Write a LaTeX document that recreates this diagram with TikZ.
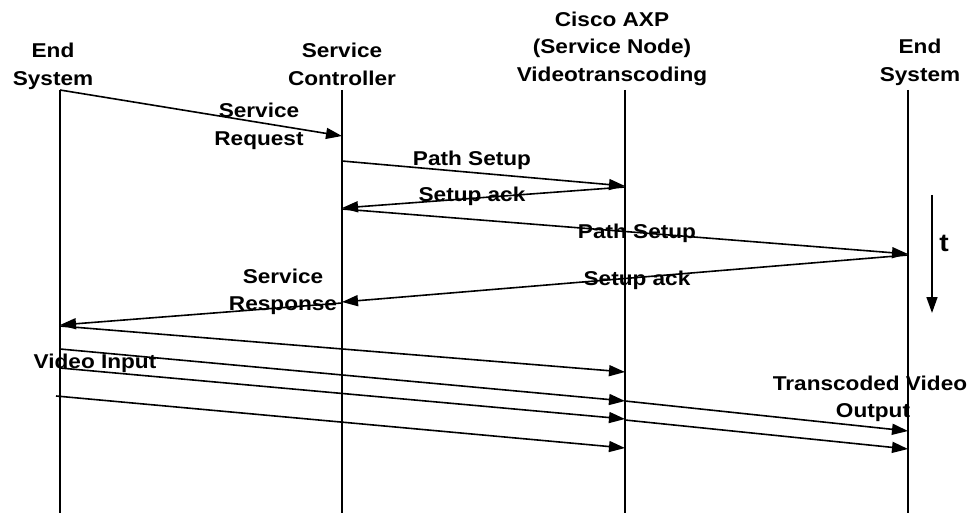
\documentclass[tikz,border=0pt]{standalone}
\usepackage{fontspec}
\setmainfont{Liberation Sans}[FakeStretch=1.13]
\usetikzlibrary{arrows.meta}
\begin{document}
\begin{tikzpicture}[x=1pt,y=-1pt,
  lifeline/.style={line width=1.4pt},
  msg/.style={line width=1.6pt,-{Triangle[length=16pt,width=11pt]}},
  lbl/.style={anchor=base,inner sep=0pt,font=\fontsize{20}{27}\selectfont\bfseries}]
\useasboundingbox (0,0) rectangle (974,513);
\fill[white] (0,0) rectangle (974,513);
% headers
\node[lbl] (h1a) at (53,58) {End};
\node[lbl] (h1b) at (53,86) {System};
\node[lbl] (h2a) at (342,58) {Service};
\node[lbl] (h2b) at (342,86) {Controller};
\node[lbl] (h3a) at (612,27) {Cisco AXP};
\node[lbl] (h3b) at (612,54) {(Service Node)};
\node[lbl] (h3c) at (612,82) {Videotranscoding};
\node[lbl] (h4a) at (920,54) {End};
\node[lbl] (h4b) at (920,82) {System};
% lifelines
\coordinate (l1t) at (60,90);  \coordinate (l1b) at (60,513);
\coordinate (l2t) at (342,90); \coordinate (l2b) at (342,513);
\coordinate (l3t) at (625,90); \coordinate (l3b) at (625,513);
\coordinate (l4t) at (908,90); \coordinate (l4b) at (908,513);
\draw[lifeline] (l1t) -- (l1b);
\draw[lifeline] (l2t) -- (l2b);
\draw[lifeline] (l3t) -- (l3b);
\draw[lifeline] (l4t) -- (l4b);
% message points
\coordinate (sr1) at (60,90);   \coordinate (sr2) at (342,136);
\coordinate (ps1) at (342,161); \coordinate (ps2) at (625,186);
\coordinate (sa1) at (625,187); \coordinate (sa2) at (342,208);
\coordinate (ps3) at (342,209); \coordinate (ps4) at (908,254);
\coordinate (sa3) at (908,255); \coordinate (sa4) at (342,302);
\coordinate (rs1) at (342,303); \coordinate (rs2) at (60,325);
\coordinate (v1a) at (60,326);  \coordinate (v1b) at (625,372);
\coordinate (v2a) at (60,349);  \coordinate (v2b) at (625,401);
\coordinate (v3a) at (60,368);  \coordinate (v3b) at (625,419);
\coordinate (v4a) at (56,396);  \coordinate (v4b) at (625,448);
\coordinate (o1a) at (625,401); \coordinate (o1b) at (908,431);
\coordinate (o2a) at (625,420); \coordinate (o2b) at (908,449);
\coordinate (t1) at (932,195);  \coordinate (t2) at (932,313);
% messages
\draw[msg] (sr1) -- (sr2);
\draw[msg] (ps1) -- (ps2);
\draw[msg] (sa1) -- (sa2);
\draw[msg] (ps3) -- (ps4);
\draw[msg] (sa3) -- (sa4);
\draw[msg] (rs1) -- (rs2);
\draw[msg] (v1a) -- (v1b);
\draw[msg] (v2a) -- (v2b);
\draw[msg] (v3a) -- (v3b);
\draw[msg] (v4a) -- (v4b);
\draw[msg] (o1a) -- (o1b);
\draw[msg] (o2a) -- (o2b);
\draw[msg] (t1) -- (t2);
% labels
\node[lbl] (sq1) at (259,118) {Service};
\node[lbl] (sq2) at (259,146) {Request};
\node[lbl] (pl1) at (472,166) {Path Setup};
\node[lbl] (al1) at (472,202) {Setup ack};
\node[lbl] (pl2) at (637,238) {Path Setup};
\node[lbl] (al2) at (637,285) {Setup ack};
\node[lbl] (rp1) at (283,283) {Service};
\node[lbl] (rp2) at (283,310) {Response};
\node[lbl] (vi) at (95,368) {Video Input};
\node[lbl] (to1) at (870,390) {Transcoded Video};
\node[lbl] (to2) at (873,417) {Output};
\node[lbl,font=\fontsize{25}{30}\selectfont\bfseries] (tl) at (944,251) {t};
\end{tikzpicture}
\end{document}
